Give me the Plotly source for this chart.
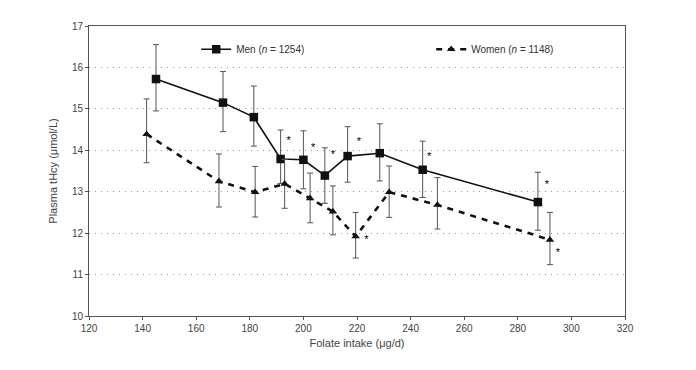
import plotly.graph_objects as go

# Data
men_x = [145, 170, 181.5, 191.5, 200, 208, 216.5, 228.5, 244.5, 287.5]
men_y = [15.72, 15.15, 14.8, 13.79, 13.77, 13.39, 13.86, 13.93, 13.53, 12.75]
men_hi = [16.55, 15.9, 15.55, 14.49, 14.47, 14.06, 14.57, 14.64, 14.22, 13.47]
men_lo = [14.95, 14.45, 14.1, 13.2, 13.07, 12.72, 13.23, 13.26, 12.86, 12.07]

women_x = [141.5, 168.5, 182, 193, 202.5, 211, 219.5, 232, 250, 292]
women_y = [14.39, 13.25, 12.99, 13.19, 12.84, 12.52, 11.92, 12.99, 12.68, 11.84]
women_hi = [15.24, 13.91, 13.61, 13.78, 13.45, 13.14, 12.5, 13.62, 13.34, 12.5]
women_lo = [13.7, 12.63, 12.39, 12.6, 12.25, 11.96, 11.4, 12.38, 12.1, 11.24]

# significance asterisks (x, y)
star_x = [194.5, 203.6, 211, 220.7, 246.9, 290.9, 223.5, 295]
star_y = [14.21, 14.06, 13.87, 14.19, 13.83, 13.15, 11.82, 11.52]

x_ticks = [120, 140, 160, 180, 200, 220, 240, 260, 280, 300, 320]
y_ticks = [10, 11, 12, 13, 14, 15, 16, 17]

FONT = "Liberation Sans, Arial, sans-serif"

fig = go.Figure()

fig.add_trace(go.Scatter(
    x=men_x, y=men_y, mode="lines+markers",
    name="Men (<i>n</i> = 1254)",
    line=dict(color="#111", width=1.6),
    marker=dict(symbol="square", size=8.5, color="#111"),
    error_y=dict(type="data", symmetric=False,
                 array=[h - y for h, y in zip(men_hi, men_y)],
                 arrayminus=[y - l for l, y in zip(men_lo, men_y)],
                 color="#555", thickness=1, width=3),
))

fig.add_trace(go.Scatter(
    x=women_x, y=women_y, mode="lines+markers",
    name="Women (<i>n</i> = 1148)",
    line=dict(color="#111", width=2.6, dash="6px,6px"),
    marker=dict(symbol="triangle-up", size=7.5, color="#111"),
    error_y=dict(type="data", symmetric=False,
                 array=[h - y for h, y in zip(women_hi, women_y)],
                 arrayminus=[y - l for l, y in zip(women_lo, women_y)],
                 color="#555", thickness=1, width=3),
))

fig.add_trace(go.Scatter(
    x=star_x, y=star_y, mode="text", text=["*"] * len(star_x),
    textfont=dict(family=FONT, size=11, color="black"),
    showlegend=False, hoverinfo="skip",
))

fig.update_layout(
    width=696, height=370,
    margin=dict(l=81, r=79, t=18, b=62),
    paper_bgcolor="white", plot_bgcolor="white",
    font=dict(family=FONT, size=10, color="#444"),
    showlegend=True,
    legend=dict(orientation="h", x=0.2, y=0.97, xanchor="left", yanchor="top",
                entrywidth=190, entrywidthmode="pixels",
                font=dict(family=FONT, size=10, color="#333"),
                bgcolor="rgba(0,0,0,0)", itemwidth=30),
)

fig.update_xaxes(
    range=[120, 320], tickvals=x_ticks, ticktext=[str(v) for v in x_ticks],
    showgrid=False, zeroline=False,
    showline=True, linecolor="#555", linewidth=1, mirror=True,
    ticks="outside", ticklen=3, tickcolor="#555",
    tickfont=dict(family=FONT, size=10, color="#444"),
    title=dict(text="Folate intake (μg/d)", font=dict(family=FONT, size=11, color="#444"), standoff=6),
)
fig.update_yaxes(
    range=[10, 17], tickvals=y_ticks, ticktext=[str(v) for v in y_ticks],
    showgrid=True, gridcolor="#999", griddash="1px,5px", gridwidth=1,
    zeroline=False,
    showline=True, linecolor="#555", linewidth=1, mirror=True,
    ticks="outside", ticklen=3, tickcolor="#555",
    tickfont=dict(family=FONT, size=10, color="#444"),
    title=dict(text="Plasma tHcy (μmol/L)", font=dict(family=FONT, size=11, color="#444"), standoff=12),
)

fig.write_html("out.html")
